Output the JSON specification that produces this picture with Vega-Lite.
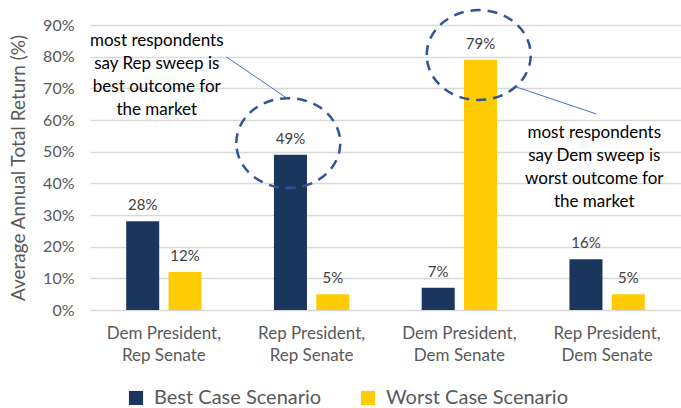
{
  "$schema": "https://vega.github.io/schema/vega-lite/v6.json",
  "width": 591,
  "height": 285,
  "autosize": {"type": "none"},
  "padding": {"left": 90, "top": 25, "right": 0, "bottom": 98},
  "background": "white",
  "config": {"view": {"stroke": null}, "font": "Lato"},
  "datasets": {
    "bars": [
      {"scenario": "Dem President, Rep Senate", "series": "Best Case Scenario", "value": 0.28},
      {"scenario": "Dem President, Rep Senate", "series": "Worst Case Scenario", "value": 0.12},
      {"scenario": "Rep President, Rep Senate", "series": "Best Case Scenario", "value": 0.49},
      {"scenario": "Rep President, Rep Senate", "series": "Worst Case Scenario", "value": 0.05},
      {"scenario": "Dem President, Dem Senate", "series": "Best Case Scenario", "value": 0.07},
      {"scenario": "Dem President, Dem Senate", "series": "Worst Case Scenario", "value": 0.79},
      {"scenario": "Rep President, Dem Senate", "series": "Best Case Scenario", "value": 0.16},
      {"scenario": "Rep President, Dem Senate", "series": "Worst Case Scenario", "value": 0.05}
    ],
    "notes": [
      {"pos": 0.452, "level": 0.849, "note": "most respondents\nsay Rep sweep is\nbest outcome for\nthe market"},
      {"pos": 3.413, "level": 0.559, "note": "most respondents\nsay Dem sweep is\nworst outcome for\nthe market"}
    ],
    "links": [
      {"pos": 0.924, "pos2": 1.342, "level": 0.799, "level2": 0.666},
      {"pos": 2.887, "pos2": 3.427, "level": 0.704, "level2": 0.619}
    ],
    "rings": [
      {"pos": 1.342, "level": 0.527},
      {"pos": 2.631, "level": 0.805}
    ]
  },
  "layer": [
    {
      "data": {"name": "bars"},
      "encoding": {
        "x": {
          "field": "scenario",
          "type": "nominal",
          "sort": ["Dem President, Rep Senate", "Rep President, Rep Senate", "Dem President, Dem Senate", "Rep President, Dem Senate"],
          "scale": {"paddingInner": 0.49, "paddingOuter": 0.245},
          "axis": {
            "title": null,
            "labelAngle": 0,
            "domain": false,
            "ticks": false,
            "labelFontSize": 17,
            "labelColor": "#595959",
            "labelPadding": 15,
            "labelLineHeight": 22,
            "labelExpr": "[slice(datum.label, 0, indexof(datum.label, ',') + 1), slice(datum.label, indexof(datum.label, ',') + 2)]"
          }
        },
        "xOffset": {
          "field": "series",
          "type": "nominal",
          "scale": {"paddingInner": 0.22}
        },
        "y": {
          "field": "value",
          "type": "quantitative",
          "scale": {"domain": [0, 0.9], "nice": false},
          "axis": {
            "title": "Average Annual Total Return (%)",
            "titleFontSize": 19,
            "titleFontWeight": "normal",
            "titleColor": "#595959",
            "titlePadding": 14,
            "format": ".0%",
            "values": [0, 0.1, 0.2, 0.3, 0.4, 0.5, 0.6, 0.7, 0.8, 0.9],
            "domain": false,
            "ticks": false,
            "labelFontSize": 16,
            "labelColor": "#595959",
            "labelPadding": 16,
            "gridColor": "#D9D9D9",
            "gridWidth": 1.5
          }
        }
      },
      "layer": [
        {
          "mark": {"type": "bar"},
          "encoding": {
            "color": {
              "field": "series",
              "type": "nominal",
              "scale": {"domain": ["Best Case Scenario", "Worst Case Scenario"], "range": ["#1B365D", "#FFCB05"]},
              "legend": {
                "title": null,
                "orient": "none",
                "direction": "horizontal",
                "legendX": 36,
                "legendY": 363,
                "symbolType": "square",
                "symbolSize": 200,
                "symbolStrokeWidth": 0,
                "labelFontSize": 20,
                "labelLimit": 400,
                "labelColor": "#595959",
                "columnPadding": 36,
                "labelOffset": 8
              }
            }
          }
        },
        {
          "mark": {"type": "text", "baseline": "bottom", "dy": -8, "fontSize": 15, "color": "#404040"},
          "encoding": {
            "text": {"field": "value", "type": "quantitative", "format": ".0%"}
          }
        }
      ]
    },
    {
      "encoding": {
        "x": {"field": "pos", "type": "quantitative", "scale": {"domain": [0, 4], "nice": false, "zero": false}, "axis": null},
        "y": {"field": "level", "type": "quantitative", "axis": null}
      },
      "layer": [
        {
          "data": {"name": "rings"},
          "mark": {
            "type": "point",
            "shape": "M -1 0 A 1 0.865 0 1 1 1 0 A 1 0.865 0 1 1 -1 0 Z",
            "size": 10816,
            "filled": false,
            "stroke": "#2F5597",
            "strokeWidth": 2.5,
            "strokeDash": [10, 7],
            "opacity": 1
          }
        },
        {
          "data": {"name": "links"},
          "mark": {"type": "rule", "color": "#4472C4", "strokeWidth": 1},
          "encoding": {
            "x2": {"field": "pos2"},
            "y2": {"field": "level2"}
          }
        },
        {
          "data": {"name": "notes"},
          "mark": {"type": "text", "lineBreak": "\n", "lineHeight": 23, "fontSize": 17, "color": "#000000", "align": "center", "baseline": "middle"},
          "encoding": {
            "text": {"field": "note"}
          }
        }
      ]
    }
  ],
  "resolve": {"scale": {"x": "independent"}, "axis": {"y": "independent"}}
}
